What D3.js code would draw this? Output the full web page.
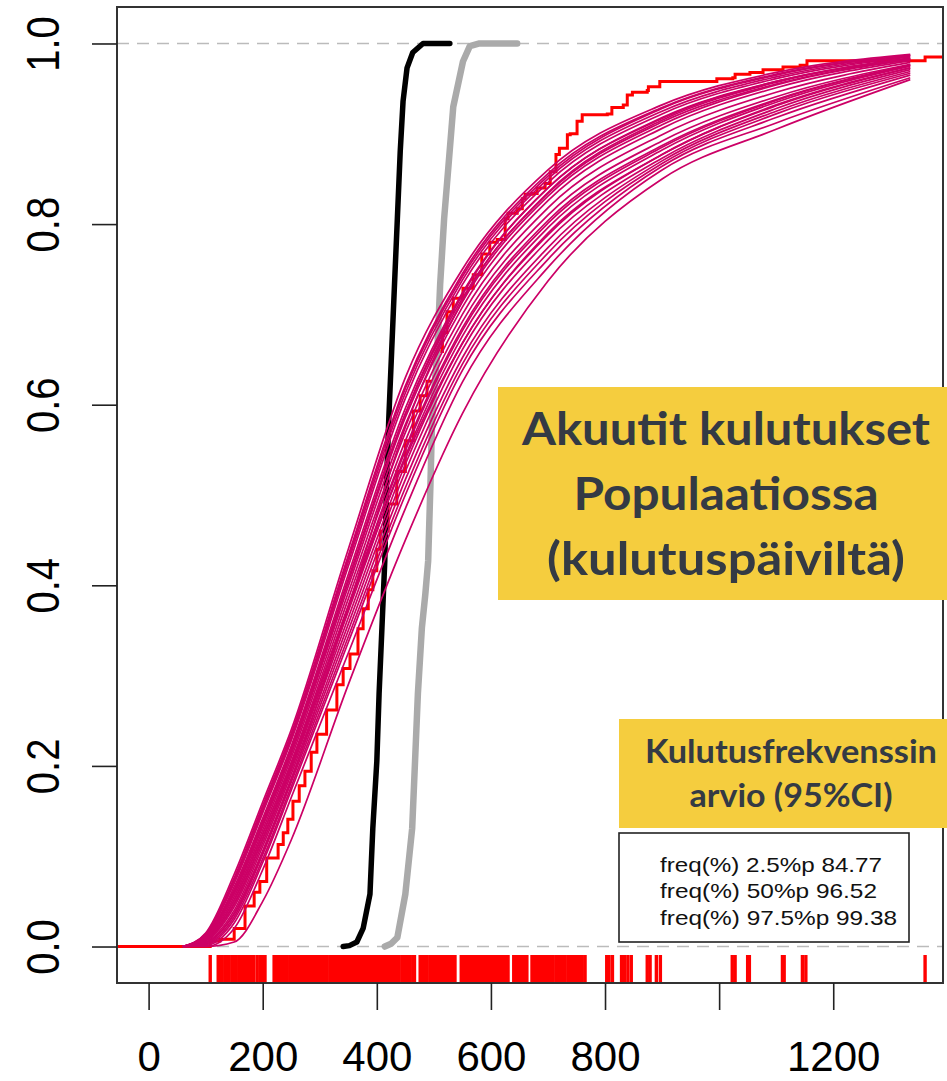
<!DOCTYPE html>
<html>
<head>
<meta charset="utf-8">
<script src="https://d3js.org/d3.v7.min.js"></script>
<style>
  body { margin: 0; background: #fff; }
  svg { display: block; }
</style>
</head>
<body>
<svg width="947" height="1081"></svg>
<script>
// axis ticks
var xTicks = [0, 200, 400, 600, 800, 1000, 1200],
    xTickLabels = ["0", "200", "400", "600", "800", "", "1200"],
    yTicks = [0, 0.2, 0.4, 0.6, 0.8, 1.0];

// observed data (rug) and its empirical cdf (red step line)
var rugX = [108, 122, 125, 129, 134, 138, 141, 146, 150, 153, 158, 162, 166, 170, 173, 177, 181, 184,
    190, 195, 200, 204, 220, 223, 227, 231, 236, 239, 243, 248, 251, 255, 259, 263, 266, 270, 275, 278,
    282, 287, 290, 294, 298, 301, 306, 309, 313, 318, 321, 325, 329, 333, 336, 341, 344, 348, 352, 356,
    359, 364, 367, 371, 375, 379, 382, 386, 390, 394, 398, 401, 405, 409, 413, 417, 420, 424, 428, 432,
    436, 439, 444, 447, 451, 455, 458, 463, 466, 476, 480, 484, 488, 493, 497, 501, 505, 509, 513, 517,
    521, 526, 530, 534, 537, 548, 552, 556, 561, 565, 569, 573, 578, 582, 586, 590, 594, 598, 602, 605,
    609, 613, 617, 622, 626, 630, 640, 644, 648, 652, 656, 660, 663, 672, 676, 680, 684, 689, 693, 697,
    701, 705, 709, 714, 718, 722, 726, 730, 735, 739, 743, 746, 750, 755, 760, 765, 803, 807, 813, 829,
    834, 840, 846, 874, 879, 890, 897, 1023, 1028, 1050, 1053, 1111, 1114, 1146, 1152, 1361];

var ecdfX = [-60, 102, 108, 125, 150, 169, 185, 195, 207, 227, 236, 244, 253, 264, 274, 285, 295, 312,
    330, 341, 353, 367, 376, 385, 393, 400, 406, 420, 435, 450, 464, 476, 488, 505, 515, 523, 534, 551,
    569, 584, 598, 611, 625, 630, 646, 655, 660, 672, 681, 695, 704, 714, 720, 734, 739, 751, 760, 804,
    812, 832, 839, 848, 874, 876, 896, 972, 996, 1024, 1028, 1054, 1077, 1112, 1142, 1154, 1361, 1400];
var ecdfY = [0, 0, 0.006, 0.008, 0.02, 0.045, 0.06, 0.072, 0.098, 0.113, 0.126, 0.141, 0.161, 0.178,
    0.194, 0.215, 0.235, 0.262, 0.29, 0.308, 0.324, 0.352, 0.374, 0.395, 0.416, 0.44, 0.46, 0.49, 0.526,
    0.56, 0.593, 0.61, 0.626, 0.659, 0.68, 0.703, 0.718, 0.729, 0.744, 0.767, 0.78, 0.783, 0.806, 0.812,
    0.817, 0.828, 0.833, 0.834, 0.84, 0.845, 0.858, 0.877, 0.884, 0.899, 0.9, 0.914, 0.921, 0.922, 0.929,
    0.932, 0.943, 0.946, 0.948, 0.952, 0.958, 0.958, 0.961, 0.962, 0.966, 0.968, 0.971, 0.974, 0.976,
    0.981, 0.985, 0.985];

// narrow cdfs (black and grey)
var blackX = [341, 352, 365, 376, 388, 393, 400, 404, 409, 414, 417, 421, 426, 431, 436, 441, 446, 453, 463, 481, 528],
    blackY = [0, 0.001, 0.005, 0.02, 0.058, 0.131, 0.205, 0.28, 0.353, 0.427, 0.512, 0.585, 0.659, 0.733, 0.806, 0.88, 0.936, 0.973, 0.99, 1.0, 1.0];
var greyX = [414, 425, 436, 450, 462, 467, 472, 479, 485, 490, 494, 497, 506, 511, 518, 525, 534, 551, 563, 580, 646],
    greyY = [0, 0.003, 0.01, 0.058, 0.131, 0.205, 0.28, 0.353, 0.39, 0.427, 0.512, 0.585, 0.659, 0.733, 0.806, 0.86, 0.93, 0.98, 0.997, 1.0, 1.0];

// fitted cdfs (magenta), values at fitX
var fitX = [60, 100, 150, 200, 250, 350, 450, 550, 700, 900, 1100, 1335];
var fits = [
    [0, .015, .080, .160, .240, .440, .630, .750, .860, .932, .968, .988],
    [0, .014, .076, .156, .236, .433, .621, .745, .856, .929, .966, .987],
    [0, .013, .074, .153, .233, .430, .618, .742, .853, .928, .965, .987],
    [0, .013, .073, .151, .231, .426, .613, .738, .850, .925, .963, .986],
    [0, .012, .070, .148, .228, .421, .607, .733, .846, .922, .961, .985],
    [0, .011, .066, .142, .222, .412, .596, .724, .840, .918, .958, .984],
    [0, .011, .063, .139, .219, .407, .590, .718, .834, .913, .955, .983],
    [0, .010, .061, .137, .217, .404, .586, .714, .831, .910, .954, .982],
    [0, .010, .058, .133, .213, .399, .578, .708, .826, .906, .951, .981],
    [0, .009, .055, .129, .209, .392, .569, .700, .818, .899, .946, .979],
    [0, .008, .051, .124, .204, .385, .560, .692, .810, .892, .941, .977],
    [0, .007, .048, .120, .200, .378, .552, .685, .804, .887, .938, .976],
    [0, .007, .047, .119, .198, .376, .549, .682, .801, .885, .937, .976],
    [0, .006, .044, .115, .195, .371, .543, .676, .796, .882, .935, .975],
    [0, .005, .040, .111, .191, .364, .534, .668, .788, .877, .931, .973],
    [0, .004, .037, .106, .186, .357, .526, .661, .782, .873, .928, .971],
    [0, .003, .033, .102, .182, .350, .517, .652, .774, .870, .925, .969],
    [0, .002, .030, .097, .177, .343, .508, .645, .768, .867, .922, .967],
    [0, .001, .026, .093, .173, .337, .500, .638, .761, .864, .918, .965],
    [0, 0, .020, .085, .165, .325, .485, .625, .752, .860, .912, .962],
    [0, .004, .036, .104, .185, .375, .575, .715, .835, .915, .957, .983],
    [0, .008, .052, .125, .203, .376, .540, .668, .790, .877, .932, .973],
    [0, .010, .060, .136, .215, .405, .590, .722, .840, .917, .958, .983],
    [0, 0, .005, .050, .118, .290, .450, .590, .737, .850, .905, .960]
];

var titleLines = ["Akuutit kulutukset", "Populaatiossa", "(kulutuspäiviltä)"],
    ciLines = ["Kulutusfrekvenssin", "arvio (95%CI)"],
    legendLines = ["freq(%) 2.5%p 84.77", "freq(%) 50%p 96.52", "freq(%) 97.5%p 99.38"];

function main() {
    var svg = d3.select("svg");
    var left = 117, right = 943, top = 7, bottom = 983;

    var x = d3.scaleLinear().domain([-55.4, 1392.4]).range([left, right]),
        y = d3.scaleLinear().domain([-0.0404, 1.0404]).range([bottom, top]);

    svg.append("clipPath").attr("id", "plot")
        .append("rect")
        .attr("x", left).attr("y", top)
        .attr("width", right - left).attr("height", bottom - top);

    var g = svg.append("g").attr("clip-path", "url(#plot)");

    // dashed reference lines at 0 and 1
    g.selectAll(".ref")
        .data([0, 1])
        .enter().append("line")
        .attr("x1", left).attr("x2", right)
        .attr("y1", function(d) { return y(d); })
        .attr("y2", function(d) { return y(d); })
        .attr("stroke", "#bbbbbb")
        .attr("stroke-width", 1.5)
        .attr("stroke-dasharray", "12,8");

    var ecdfLine = d3.line()
        .x(function(d) { return x(ecdfX[d]); })
        .y(function(d) { return y(ecdfY[d]); })
        .curve(d3.curveStepAfter);

    g.append("path")
        .datum(d3.range(ecdfX.length))
        .attr("fill", "none")
        .attr("stroke", "#ff0000")
        .attr("stroke-width", 3)
        .attr("d", ecdfLine);

    function pairLine(xs, ys) {
        return d3.line()
            .x(function(d) { return x(xs[d]); })
            .y(function(d) { return y(ys[d]); })(d3.range(xs.length));
    }

    g.append("path")
        .attr("d", pairLine(blackX, blackY))
        .attr("fill", "none")
        .attr("stroke", "#000")
        .attr("stroke-width", 5.5)
        .attr("stroke-linejoin", "round")
        .attr("stroke-linecap", "round");

    g.append("path")
        .attr("d", pairLine(greyX, greyY))
        .attr("fill", "none")
        .attr("stroke", "#aaaaaa")
        .attr("stroke-width", 6.5)
        .attr("stroke-linejoin", "round")
        .attr("stroke-linecap", "round");

    var fitLine = d3.line()
        .x(function(d, i) { return x(fitX[i]); })
        .y(function(d) { return y(d); })
        .curve(d3.curveMonotoneX);

    g.selectAll(".fit")
        .data(fits)
        .enter().append("path")
        .attr("class", "fit")
        .attr("fill", "none")
        .attr("stroke", "#cc0066")
        .attr("stroke-width", 1.7)
        .attr("d", fitLine);

    // rug
    svg.selectAll(".rug")
        .data(rugX)
        .enter().append("line")
        .attr("class", "rug")
        .attr("x1", function(d) { return x(d); })
        .attr("x2", function(d) { return x(d); })
        .attr("y1", 955)
        .attr("y2", 984)
        .attr("stroke", "#ff0000")
        .attr("stroke-width", 3.4);

    // plot box
    svg.append("rect")
        .attr("x", left).attr("y", top)
        .attr("width", right - left).attr("height", bottom - top)
        .attr("fill", "none")
        .attr("stroke", "#333")
        .attr("stroke-width", 2);

    var xAxis = svg.append("g")
        .attr("transform", "translate(0," + bottom + ")")
        .call(d3.axisBottom(x).tickValues(xTicks).tickSize(27)
            .tickFormat(function(d, i) { return xTickLabels[i]; }));
    xAxis.select(".domain").remove();
    xAxis.selectAll("line").attr("stroke", "#222").attr("stroke-width", 1.6);
    xAxis.selectAll("text")
        .attr("y", 88)
        .attr("dy", 0)
        .attr("fill", "#000")
        .style("font-family", "'Liberation Sans', Arial, sans-serif")
        .style("font-size", "42px");

    var yAxis = svg.append("g")
        .attr("transform", "translate(" + left + ",0)")
        .call(d3.axisLeft(y).tickValues(yTicks).tickSize(25).tickFormat(d3.format(".1f")));
    yAxis.select(".domain").remove();
    yAxis.selectAll("line").attr("stroke", "#222").attr("stroke-width", 1.6);
    yAxis.selectAll("text")
        .attr("x", null)
        .attr("dy", null)
        .attr("text-anchor", "middle")
        .attr("fill", "#000")
        .attr("transform", "translate(-58,0) scale(1.17,1) rotate(-90)")
        .style("font-family", "'Liberation Sans', Arial, sans-serif")
        .style("font-size", "40px");

    // yellow title box
    svg.append("rect")
        .attr("x", 498).attr("y", 387)
        .attr("width", 449).attr("height", 213)
        .attr("fill", "#f5cd3e");
    var titleWidths = [408, 305, 358],
        titleBase = [445, 510, 575];
    svg.selectAll(".title")
        .data(titleLines)
        .enter().append("text")
        .attr("class", "title")
        .attr("x", 726)
        .attr("y", function(d, i) { return titleBase[i]; })
        .attr("text-anchor", "middle")
        .attr("textLength", function(d, i) { return titleWidths[i]; })
        .attr("lengthAdjust", "spacingAndGlyphs")
        .attr("fill", "#343a44")
        .style("font-family", "Lato, 'Open Sans', sans-serif")
        .style("font-weight", "bold")
        .style("font-size", "46px")
        .text(function(d) { return d; });

    // yellow CI box
    svg.append("rect")
        .attr("x", 619).attr("y", 719)
        .attr("width", 328).attr("height", 109)
        .attr("fill", "#f5cd3e");
    var ciWidths = [292, 203],
        ciBase = [763, 807];
    svg.selectAll(".ci")
        .data(ciLines)
        .enter().append("text")
        .attr("class", "ci")
        .attr("x", 791)
        .attr("y", function(d, i) { return ciBase[i]; })
        .attr("text-anchor", "middle")
        .attr("textLength", function(d, i) { return ciWidths[i]; })
        .attr("lengthAdjust", "spacingAndGlyphs")
        .attr("fill", "#343a44")
        .style("font-family", "Lato, 'Open Sans', sans-serif")
        .style("font-weight", "bold")
        .style("font-size", "32px")
        .text(function(d) { return d; });

    // legend
    svg.append("rect")
        .attr("x", 619).attr("y", 833)
        .attr("width", 290).attr("height", 109)
        .attr("fill", "#fff")
        .attr("stroke", "#222")
        .attr("stroke-width", 1.6);
    var legWidths = [222, 217, 237],
        legBase = [872, 898, 925];
    svg.selectAll(".leg")
        .data(legendLines)
        .enter().append("text")
        .attr("class", "leg")
        .attr("x", 660)
        .attr("y", function(d, i) { return legBase[i]; })
        .attr("textLength", function(d, i) { return legWidths[i]; })
        .attr("lengthAdjust", "spacingAndGlyphs")
        .attr("fill", "#111")
        .style("font-family", "'Liberation Sans', Arial, sans-serif")
        .style("font-size", "21px")
        .text(function(d) { return d; });
}

main();
</script>
</body>
</html>
